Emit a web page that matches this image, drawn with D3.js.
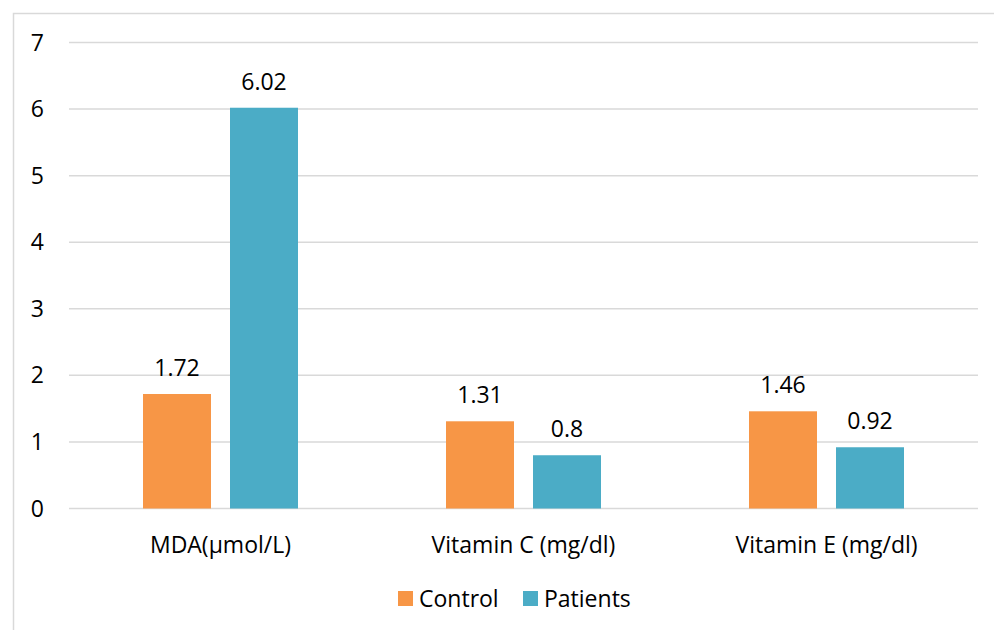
<!DOCTYPE html>
<html>
<head>
<meta charset="utf-8">
<script src="https://cdn.jsdelivr.net/npm/d3@7"></script>
<style>
  body { margin: 0; background: #fff; }
  text { font-family: "Open Sans", sans-serif; fill: #000; }
</style>
</head>
<body>
<script>
var categories = ["MDA(\u00b5mol/L)", "Vitamin C (mg/dl)", "Vitamin E (mg/dl)"];
var seriesNames = ["Control", "Patients"];
var control = [1.72, 1.31, 1.46];
var patients = [6.02, 0.8, 0.92];
var yTicks = [0, 1, 2, 3, 4, 5, 6, 7];
var colors = ["#F79646", "#4BACC6"];

var width = 994, height = 630;
var plotLeft = 69, plotRight = 978, plotTop = 42.5, plotBottom = 508.5;

var svg = d3.select("body").append("svg")
    .attr("width", width)
    .attr("height", height);

// chart frame (runs off the right and bottom edges)
svg.append("rect")
    .attr("x", 13.5).attr("y", 13.5)
    .attr("width", 1000).attr("height", 700)
    .style("fill", "none")
    .style("stroke", "#d9d9d9")
    .style("stroke-width", "1.5px");

var x = d3.scaleBand().domain(categories).range([plotLeft, plotRight]);
var y = d3.scaleLinear().domain([0, 7]).range([plotBottom, plotTop]);

var barW = 68, gap = 19;

svg.selectAll(".grid").data(yTicks).enter().append("line")
    .attr("x1", plotLeft).attr("x2", plotRight)
    .attr("y1", function(d) { return y(d); })
    .attr("y2", function(d) { return y(d); })
    .style("stroke", "#d9d9d9")
    .style("stroke-width", "1.5px");

svg.selectAll(".ytick").data(yTicks).enter().append("text")
    .attr("x", 44)
    .attr("y", function(d) { return y(d); })
    .attr("dy", "0.35em")
    .attr("text-anchor", "end")
    .style("font-size", "23px")
    .text(function(d) { return d; });

var series = [control, patients];
series.forEach(function(vals, s) {
  var g = svg.append("g");
  var xpos = function(d, i) {
    var c = x(categories[i]) + x.bandwidth() / 2;
    return s === 0 ? c - gap / 2 - barW : c + gap / 2;
  };
  g.selectAll("rect").data(vals).enter().append("rect")
      .attr("x", xpos)
      .attr("y", function(d) { return y(d); })
      .attr("width", barW)
      .attr("height", function(d) { return y(0) - y(d); })
      .style("fill", colors[s]);
  g.selectAll("text").data(vals).enter().append("text")
      .attr("x", function(d, i) { return xpos(d, i) + barW / 2; })
      .attr("y", function(d) { return y(d) - 18; })
      .attr("text-anchor", "middle")
      .style("font-size", "23px")
      .text(function(d) { return d; });
});

svg.selectAll(".cat").data(categories).enter().append("text")
    .attr("x", function(d) { return x(d) + x.bandwidth() / 2; })
    .attr("y", 553)
    .attr("text-anchor", "middle")
    .style("font-size", "23px")
    .text(function(d) { return d; });

// legend
var legendX = [398, 523];
seriesNames.forEach(function(name, i) {
  svg.append("rect")
      .attr("x", legendX[i]).attr("y", 591)
      .attr("width", 15).attr("height", 15)
      .style("fill", colors[i]);
  svg.append("text")
      .attr("x", legendX[i] + 21).attr("y", 607)
      .style("font-size", "23px")
      .text(name);
});
</script>
</body>
</html>
